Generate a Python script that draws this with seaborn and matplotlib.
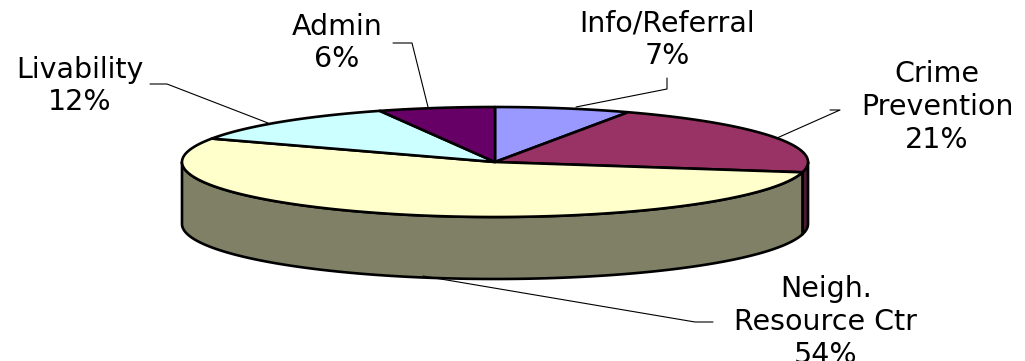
import numpy as np
import matplotlib
matplotlib.use("Agg")
import matplotlib.pyplot as plt
import seaborn as sns

# slice data, clockwise from 12 o'clock
labels = ["Info/Referral", "Crime\nPrevention", "Neigh.\nResource Ctr", "Livability", "Admin"]
values = [7, 21, 54, 12, 6]
top_colors = ["#9999FF", "#993366", "#FFFFCC", "#CCFFFF", "#660066"]
side_colors = ["#4D4D80", "#4D1A33", "#808066", "#668080", "#330033"]

# label placement (pixel coords) and leader lines
label_xy = [(667, 40), (937, 107), (826, 322), (80, 86), (337, 43)]
leaders = [
    [(667, 78), (667, 89), (576, 107)],
    [(830, 110), (840, 110), (777, 138)],
    [(713, 322), (695, 322), (423, 276)],
    [(150, 84), (167, 84), (268, 123)],
    [(393, 43), (412, 43), (428, 107)],
]

sns.set_style("white")
plt.rcParams["font.family"] = ["DejaVu Sans"]

W, H = 1025, 361
cx, cy, rx, ry, depth = 495, 162, 313, 55, 62

fig = plt.figure(figsize=(W / 100, H / 100), dpi=100)
ax = fig.add_axes([0, 0, 1, 1])
ax.set_xlim(0, W)
ax.set_ylim(H, 0)
ax.axis("off")


def ell(theta, dy=0.0):
    t = np.radians(theta)
    return cx + rx * np.sin(t), cy - ry * np.cos(t) + dy


bounds = np.concatenate([[0], np.cumsum(values)]) / sum(values) * 360
edge_kw = dict(edgecolor="black", linewidth=1.9, joinstyle="round")

# sides (front half only, 90..270 deg)
for i in range(len(values)):
    a0, a1 = max(bounds[i], 90), min(bounds[i + 1], 270)
    if a1 <= a0:
        continue
    th = np.linspace(a0, a1, 120)
    xt, yt = ell(th)
    xb, yb = ell(th[::-1], depth)
    ax.fill(np.r_[xt, xb], np.r_[yt, yb], facecolor=side_colors[i], **edge_kw)

# top surface wedges
for i in range(len(values)):
    th = np.linspace(bounds[i], bounds[i + 1], 200)
    xs, ys = ell(th)
    ax.fill(np.r_[cx, xs], np.r_[cy, ys], facecolor=top_colors[i], **edge_kw)

# labels + leader lines
for lab, v, (x, y), pts in zip(labels, values, label_xy, leaders):
    ax.text(x, y, f"{lab}\n{v}%", ha="center", va="center", fontsize=20.5,
            linespacing=1.22, color="black")
    px, py = zip(*pts)
    ax.plot(px, py, color="black", lw=0.8)

fig.savefig("out.png", dpi=100, facecolor="white")
